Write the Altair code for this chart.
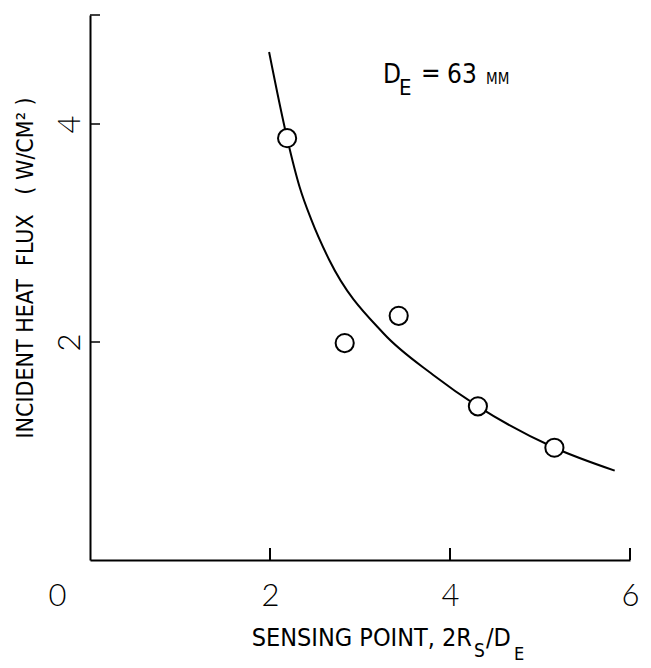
import altair as alt
import pandas as pd

# ---- data ----
# measured points (open circles)
point_x = [2.19, 2.83, 3.43, 4.31, 5.16]
point_y = [3.87, 1.99, 2.24, 1.41, 1.03]

# drawn curve through the data
curve_x = [1.99, 2.19, 2.33, 2.46, 2.66, 3.26, 3.81, 4.31, 5.16, 5.83]
curve_y = [4.66, 3.87, 3.42, 3.12, 2.75, 2.08, 1.70, 1.41, 1.03, 0.82]

# axis ticks / labels
x_tick_values = [2, 4, 6]
y_tick_values = [2, 4, 5]
x_label_values = [0, 2, 4, 6]
y_label_values = [2, 4]

# text pieces
NB = "\u00a0"
x_title_main = "SENSING POINT, 2R"
x_title_sub1 = "S"
x_title_mid = "/D"
x_title_sub2 = "E"
y_title = f"INCIDENT{NB}HEAT{NB*2}FLUX{NB*3}({NB}W/CM\u00b2{NB})"
note_pieces = ["D", "E", "=", "63", "MM"]

# ---- styling / layout ----
TEXT_FONT = "Liberation Sans Narrow, DejaVu Sans Condensed, Liberation Sans, sans-serif"
DIGIT_FONT = "Lato, Open Sans, DejaVu Sans, sans-serif"
W, H = 540, 545
X_DOM, Y_DOM = [0, 6], [0, 5]

def px_to_x(px):
    return (px - 90) / (W / (X_DOM[1] - X_DOM[0]))

def py_to_y(py):
    return (560 - py) / (H / (Y_DOM[1] - Y_DOM[0]))

xs = alt.Scale(domain=X_DOM, nice=False, zero=False)
ys = alt.Scale(domain=Y_DOM, nice=False, zero=False)

x_axis = alt.Axis(
    values=x_label_values, title=None, ticks=False, grid=False,
    domainColor="black", domainWidth=2, format="d",
    labelFont=DIGIT_FONT, labelFontSize=31, labelFontWeight=300, labelColor="black",
    labelPadding=36, labelBaseline="middle", labelAlign="center",
    labelFlush=False, labelOverlap=False,
    labelOffset={"condition": {"test": "datum.value === 0", "value": -33}, "value": 0},
)
y_axis = alt.Axis(
    values=y_label_values, title=None, ticks=False, grid=False,
    domainColor="black", domainWidth=2, format="d",
    labelFont=DIGIT_FONT, labelFontSize=31, labelFontWeight=300, labelColor="black",
    labelAngle=270, labelAlign="center", labelBaseline="middle",
    labelPadding=20, labelOverlap=False, labelFlush=False,
)

X = lambda f="x": alt.X(f"{f}:Q", scale=xs, axis=x_axis)
Y = lambda f="y": alt.Y(f"{f}:Q", scale=ys, axis=y_axis)

curve_df = pd.DataFrame({"x": curve_x, "y": curve_y})
point_df = pd.DataFrame({"x": point_x, "y": point_y})

x_tick_len = 12 / (H / 5)
y_tick_len = 10 / (W / 6)
xt_df = pd.DataFrame({"x": x_tick_values, "y": [0.0] * 3, "y2": [x_tick_len] * 3})
yt_df = pd.DataFrame({"y": y_tick_values, "x": [0.0] * 3, "x2": [y_tick_len] * 3})

xticks = alt.Chart(xt_df).mark_rule(color="black", strokeWidth=2).encode(
    x=X(), y=Y(), y2="y2:Q")
yticks = alt.Chart(yt_df).mark_rule(color="black", strokeWidth=1.5).encode(
    x=X(), x2="x2:Q", y=Y())

line = alt.Chart(curve_df).mark_line(
    color="black", strokeWidth=2, interpolate="monotone").encode(x=X(), y=Y())

points = alt.Chart(point_df).mark_point(
    shape="circle", filled=True, fill="white", stroke="black",
    strokeWidth=2, size=330, opacity=1).encode(x=X(), y=Y())

# left-aligned text pieces (annotation and subscripts)
left_df = pd.DataFrame({
    "text": note_pieces + [x_title_sub1, x_title_mid, x_title_sub2],
    "x": [px_to_x(383), px_to_x(399), px_to_x(421), px_to_x(447), px_to_x(486),
          px_to_x(474), px_to_x(486), px_to_x(514)],
    "y": [py_to_y(83), py_to_y(95), py_to_y(82), py_to_y(83), py_to_y(84),
          py_to_y(657), py_to_y(646), py_to_y(660)],
    "size": [26, 22, 26, 26, 15, 19, 25, 18],
})
left_text = alt.Chart(left_df).mark_text(
    align="left", baseline="alphabetic", font=TEXT_FONT, color="black").encode(
    x=X(), y=Y(), text="text:N", size=alt.Size("size:Q", scale=None, legend=None))

right_df = pd.DataFrame({"text": [x_title_main], "x": [px_to_x(472)], "y": [py_to_y(646)]})
right_text = alt.Chart(right_df).mark_text(
    align="right", baseline="alphabetic", font=TEXT_FONT, fontSize=25, color="black").encode(
    x=X(), y=Y(), text="text:N")

ytitle_df = pd.DataFrame({"text": [y_title], "x": [px_to_x(26)], "y": [py_to_y(268)]})
ytitle_text = alt.Chart(ytitle_df).mark_text(
    align="center", baseline="middle", angle=270, font=TEXT_FONT, fontSize=23,
    color="black").encode(x=X(), y=Y(), text="text:N")

chart = alt.layer(
    line, points, xticks, yticks, left_text, right_text, ytitle_text
).properties(
    width=W, height=H,
    autosize=alt.AutoSizeParams(type="none"),
    padding={"left": 90, "top": 15, "right": 21, "bottom": 108},
    background="white",
).configure_view(stroke=None)

chart.save("out.html", embed_options={"renderer": "svg", "actions": False})
